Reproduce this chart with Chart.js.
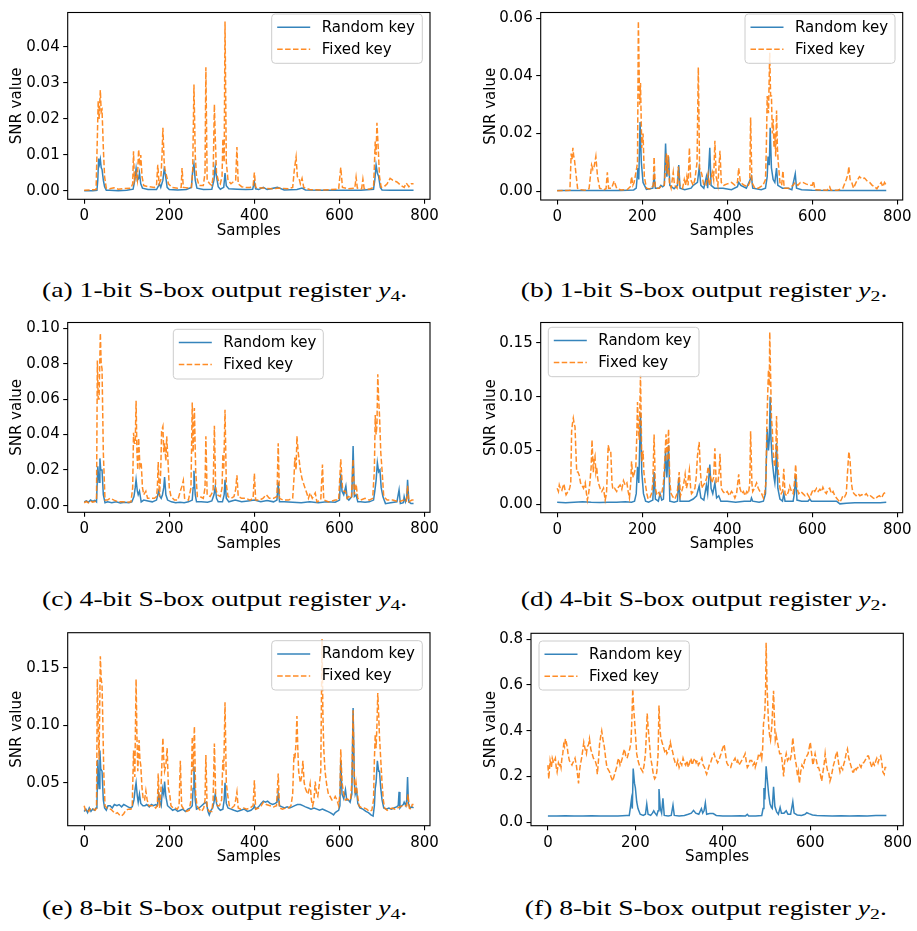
<!DOCTYPE html>
<html><head><meta charset="utf-8">
<script src="https://cdn.jsdelivr.net/npm/chart.js@4.4.1/dist/chart.umd.min.js"></script>
<style>
body{margin:0;background:#fff;}
#page{position:relative;width:917px;height:931px;overflow:hidden;background:#fff;}
#page canvas{position:absolute;}
.cap{position:absolute;font-family:"Liberation Serif","Times New Roman",serif;font-size:21px;line-height:21px;white-space:nowrap;color:#000;transform-origin:50% 50%;}
.cap sub{font-size:15px;vertical-align:-4px;line-height:0;}
</style></head><body><div id="page"></div>
<script>
// ---------- data: [sample, SNR value] ----------
const xTickLabels=[0,200,400,600,800];
const seriesNames=['Random key','Fixed key'];
const captions=['(a) 1-bit S-box output register ','(b) 1-bit S-box output register ','(c) 4-bit S-box output register ','(d) 4-bit S-box output register ','(e) 8-bit S-box output register ','(f) 8-bit S-box output register '];
const captionSubs=['4','2','4','2','4','2'];

const yTicksA=[0,0.01,0.02,0.03,0.04];
const yTicksB=[0,0.02,0.04,0.06];
const yTicksC=[0,0.02,0.04,0.06,0.08,0.10];
const yTicksD=[0,0.05,0.10,0.15];
const yTicksE=[0.05,0.10,0.15];
const yTicksF=[0,0.2,0.4,0.6,0.8];

const aRandom=[[0,0.0001],[10,0.0001],[20,0.0001],[30,0.0002],[32,0.003],[34,0.009],[36,0.0075],[38,0.0088],[40,0.0065],[42,0.006],[45,0.003],[48,0.0012],[52,0.0002],[60,0.0002],[80,0.0001],[100,0.0002],[115,0.0005],[119,0.003],[122,0.0062],[125,0.003],[128,0.0035],[130,0.005],[133,0.002],[137,0.0008],[150,0.0004],[170,0.0004],[175,0.0015],[177,0.002],[180,0.001],[185,0.003],[188,0.006],[191,0.0045],[195,0.001],[200,0.0004],[220,0.0003],[240,0.0004],[252,0.001],[255,0.0055],[258,0.0075],[261,0.003],[265,0.0008],[280,0.0004],[300,0.0005],[305,0.003],[308,0.0068],[311,0.004],[315,0.0012],[320,0.0005],[328,0.001],[331,0.005],[334,0.0015],[340,0.0006],[360,0.0005],[380,0.0004],[396,0.0005],[400,0.0025],[403,0.0006],[410,0.0004],[421,0.001],[430,0.0004],[454,0.001],[470,0.0003],[500,0.0004],[512,0.0008],[520,0.0003],[560,0.0002],[600,0.0002],[650,0.0002],[680,0.0005],[683,0.003],[686,0.0072],[689,0.005],[692,0.004],[696,0.001],[700,0.0003],[720,0.0002],[774,0.0002]];
const aFixed=[[0,0.0002],[15,0.0003],[28,0.0004],[31,0.015],[33,0.025],[35,0.02],[38,0.028],[40,0.022],[42,0.0225],[45,0.012],[48,0.004],[52,0.0008],[60,0.0006],[70,0.0009],[80,0.0005],[95,0.0007],[110,0.0008],[114,0.002],[116,0.011],[118,0.003],[122,0.005],[125,0.003],[128,0.0115],[131,0.007],[133,0.010],[136,0.004],[140,0.0015],[150,0.0012],[165,0.001],[170,0.0015],[173,0.0073],[176,0.002],[180,0.003],[183,0.01],[185,0.0175],[188,0.008],[190,0.006],[194,0.004],[198,0.002],[206,0.001],[220,0.0008],[228,0.001],[230,0.0064],[233,0.001],[245,0.0008],[252,0.001],[255,0.0055],[258,0.0295],[261,0.01],[264,0.004],[270,0.0015],[280,0.0015],[284,0.005],[286,0.0343],[289,0.003],[295,0.002],[300,0.0015],[303,0.004],[306,0.024],[308,0.015],[311,0.005],[315,0.003],[320,0.002],[324,0.004],[326,0.0145],[329,0.008],[331,0.047],[334,0.008],[338,0.003],[345,0.002],[350,0.0025],[356,0.003],[359,0.0122],[362,0.002],[370,0.0012],[380,0.001],[390,0.001],[397,0.0015],[400,0.0051],[403,0.001],[420,0.0008],[440,0.0006],[460,0.0008],[480,0.0006],[490,0.001],[494,0.006],[498,0.0094],[501,0.004],[505,0.0035],[508,0.002],[512,0.0035],[516,0.001],[530,0.0004],[560,0.0003],[580,0.0004],[598,0.0005],[603,0.0065],[607,0.001],[620,0.0006],[636,0.0008],[639,0.0038],[642,0.0008],[652,0.0006],[655,0.0033],[658,0.0007],[670,0.0005],[680,0.001],[682,0.007],[684,0.0137],[686,0.01],[688,0.0189],[691,0.012],[694,0.004],[698,0.001],[705,0.0012],[712,0.002],[719,0.0035],[725,0.003],[735,0.0025],[745,0.0015],[752,0.001],[757,0.0022],[763,0.0012],[768,0.002],[774,0.002]];

const bRandom=[[0,0.0002],[50,0.0002],[100,0.0002],[150,0.0002],[180,0.0004],[186,0.001],[190,0.008],[192,0.004],[195,0.024],[198,0.01],[202,0.003],[210,0.0006],[225,0.001],[228,0.005],[231,0.001],[240,0.001],[244,0.002],[248,0.0015],[252,0.002],[255,0.0165],[258,0.005],[262,0.012],[265,0.002],[275,0.0008],[283,0.002],[286,0.009],[289,0.001],[300,0.0005],[315,0.001],[320,0.002],[330,0.003],[334,0.008],[338,0.002],[345,0.001],[351,0.005],[354,0.001],[359,0.015],[362,0.002],[370,0.001],[390,0.001],[410,0.0005],[424,0.0015],[427,0.003],[432,0.002],[445,0.001],[457,0.005],[460,0.001],[480,0.0005],[490,0.001],[494,0.005],[496,0.012],[499,0.009],[501,0.022],[504,0.008],[508,0.004],[512,0.003],[516,0.008],[519,0.002],[530,0.001],[543,0.001],[552,0.0005],[560,0.006],[563,0.001],[575,0.0005],[600,0.0003],[650,0.0002],[700,0.0002],[774,0.0002]];
const bFixed=[[0,0.0001],[20,0.0002],[30,0.0003],[33,0.013],[35,0.011],[37,0.015],[39,0.012],[41,0.0105],[45,0.005],[48,0.001],[55,0.0005],[65,0.0003],[75,0.0008],[81,0.009],[84,0.0075],[87,0.0085],[91,0.012],[95,0.005],[100,0.001],[110,0.0005],[115,0.0008],[118,0.0065],[121,0.001],[128,0.001],[134,0.0035],[140,0.001],[150,0.0004],[165,0.0005],[172,0.0015],[175,0.005],[178,0.002],[181,0.003],[187,0.008],[189,0.01],[191,0.059],[194,0.03],[196,0.0375],[199,0.015],[202,0.02],[205,0.005],[210,0.001],[220,0.0006],[226,0.002],[228,0.0118],[231,0.001],[240,0.001],[246,0.002],[252,0.002],[257,0.013],[259,0.006],[261,0.0125],[264,0.003],[268,0.001],[273,0.0065],[276,0.002],[282,0.001],[285,0.0085],[288,0.002],[295,0.001],[299,0.004],[302,0.002],[305,0.005],[308,0.002],[311,0.015],[314,0.004],[320,0.002],[324,0.004],[329,0.01],[332,0.043],[335,0.008],[340,0.006],[345,0.002],[350,0.002],[355,0.006],[358,0.002],[365,0.0065],[368,0.004],[371,0.0175],[374,0.005],[378,0.002],[383,0.014],[386,0.003],[392,0.002],[400,0.0025],[410,0.003],[418,0.002],[424,0.003],[427,0.008],[431,0.003],[440,0.002],[448,0.0015],[453,0.003],[455,0.0255],[458,0.003],[465,0.001],[473,0.001],[484,0.002],[490,0.004],[492,0.015],[494,0.033],[497,0.027],[500,0.048],[502,0.033],[504,0.033],[506,0.02],[508,0.025],[510,0.015],[512,0.02],[514,0.012],[516,0.028],[518,0.015],[520,0.01],[524,0.003],[528,0.002],[531,0.007],[534,0.001],[545,0.001],[555,0.002],[560,0.003],[566,0.002],[572,0.003],[578,0.003],[585,0.0025],[594,0.002],[600,0.002],[603,0.0035],[606,0.0005],[620,0.0004],[635,0.0003],[641,0.0015],[644,0.0003],[660,0.0003],[672,0.001],[680,0.004],[684,0.006],[686,0.0085],[689,0.004],[693,0.003],[697,0.001],[703,0.003],[711,0.005],[717,0.0042],[723,0.0045],[729,0.0035],[735,0.003],[741,0.002],[747,0.0015],[752,0.0008],[757,0.002],[762,0.003],[766,0.0015],[770,0.003],[774,0.002]];

const cRandom=[[0,0.002],[5,0.0025],[10,0.0018],[15,0.003],[20,0.0022],[25,0.0028],[29,0.002],[32,0.022],[35,0.013],[37,0.0265],[39,0.02],[42,0.02],[45,0.006],[49,0.0015],[55,0.002],[65,0.0015],[75,0.002],[85,0.0014],[95,0.0017],[105,0.0015],[112,0.002],[117,0.005],[120,0.01],[122,0.0145],[125,0.008],[127,0.006],[130,0.008],[134,0.002],[140,0.003],[150,0.0025],[160,0.002],[170,0.003],[175,0.008],[178,0.005],[181,0.004],[184,0.006],[187,0.01],[189,0.016],[192,0.006],[196,0.003],[205,0.002],[215,0.0015],[225,0.0018],[235,0.0015],[245,0.002],[254,0.003],[256,0.01],[258,0.0195],[261,0.006],[264,0.002],[275,0.002],[290,0.0018],[300,0.0025],[305,0.006],[308,0.0105],[311,0.004],[315,0.002],[325,0.002],[329,0.006],[331,0.0145],[334,0.004],[340,0.002],[355,0.003],[370,0.002],[385,0.0025],[400,0.003],[415,0.002],[430,0.0028],[445,0.002],[453,0.003],[456,0.013],[459,0.002],[470,0.002],[490,0.0018],[510,0.0015],[530,0.002],[550,0.0015],[570,0.002],[590,0.0018],[600,0.003],[603,0.018],[606,0.008],[610,0.006],[615,0.011],[618,0.004],[622,0.003],[629,0.005],[632,0.0335],[635,0.005],[639,0.006],[643,0.002],[650,0.002],[660,0.0018],[670,0.002],[680,0.003],[683,0.008],[686,0.014],[689,0.024],[692,0.019],[695,0.02],[698,0.01],[702,0.005],[708,0.001],[720,0.0015],[735,0.002],[740,0.0088],[743,0.001],[750,0.0015],[752,0.005],[755,0.002],[758,0.004],[760,0.0145],[763,0.002],[768,0.001],[774,0.001]];
const cFixed=[[0,0.0015],[5,0.0022],[10,0.0015],[15,0.0025],[20,0.0018],[25,0.0022],[29,0.003],[31,0.0818],[33,0.06],[35,0.06],[38,0.0972],[40,0.08],[42,0.077],[45,0.03],[49,0.003],[55,0.003],[61,0.004],[70,0.003],[80,0.002],[90,0.002],[100,0.0018],[110,0.002],[114,0.01],[116,0.041],[118,0.035],[120,0.035],[122,0.059],[124,0.03],[126,0.02],[128,0.038],[131,0.022],[134,0.024],[137,0.01],[140,0.006],[145,0.008],[149,0.004],[155,0.004],[165,0.004],[170,0.005],[172,0.01],[174,0.0245],[177,0.005],[180,0.02],[182,0.042],[185,0.0445],[187,0.03],[189,0.035],[192,0.025],[194,0.039],[197,0.025],[200,0.01],[204,0.005],[212,0.003],[220,0.003],[226,0.008],[230,0.011],[233,0.014],[236,0.004],[245,0.003],[251,0.01],[254,0.058],[256,0.03],[259,0.055],[262,0.02],[266,0.005],[272,0.005],[280,0.004],[284,0.01],[286,0.039],[289,0.006],[296,0.005],[303,0.008],[306,0.045],[309,0.01],[313,0.006],[320,0.005],[324,0.01],[326,0.029],[328,0.02],[331,0.054],[334,0.012],[338,0.005],[345,0.004],[352,0.005],[356,0.009],[359,0.017],[362,0.005],[370,0.004],[380,0.004],[390,0.003],[397,0.004],[400,0.018],[403,0.003],[412,0.003],[420,0.004],[428,0.006],[435,0.004],[445,0.004],[453,0.005],[456,0.035],[459,0.004],[467,0.003],[480,0.003],[490,0.004],[493,0.015],[495,0.027],[498,0.02],[500,0.039],[503,0.03],[508,0.02],[512,0.015],[516,0.012],[523,0.007],[527,0.004],[531,0.007],[536,0.004],[543,0.007],[547,0.002],[556,0.003],[560,0.023],[563,0.003],[575,0.002],[590,0.003],[598,0.003],[603,0.026],[607,0.01],[610,0.008],[614,0.008],[618,0.004],[621,0.005],[628,0.004],[632,0.026],[635,0.006],[639,0.012],[643,0.004],[650,0.003],[660,0.004],[670,0.003],[678,0.004],[682,0.02],[684,0.051],[686,0.04],[688,0.045],[690,0.074],[692,0.06],[694,0.051],[697,0.03],[700,0.02],[704,0.005],[712,0.003],[725,0.003],[740,0.002],[750,0.003],[757,0.002],[760,0.011],[763,0.002],[770,0.003],[774,0.003]];

const dRandom=[[0,0.002],[20,0.0015],[40,0.002],[60,0.0025],[80,0.002],[100,0.0018],[120,0.002],[140,0.002],[160,0.0025],[175,0.002],[182,0.003],[186,0.01],[189,0.035],[192,0.02],[196,0.085],[199,0.03],[203,0.01],[208,0.003],[215,0.002],[225,0.004],[228,0.03],[231,0.005],[238,0.003],[242,0.01],[246,0.004],[250,0.005],[255,0.05],[258,0.025],[262,0.055],[265,0.003],[275,0.002],[283,0.003],[286,0.025],[289,0.003],[300,0.003],[310,0.003],[320,0.005],[328,0.008],[334,0.017],[338,0.006],[345,0.004],[351,0.018],[354,0.01],[359,0.037],[362,0.015],[366,0.01],[371,0.02],[375,0.006],[380,0.008],[385,0.003],[400,0.003],[420,0.002],[440,0.003],[455,0.003],[457,0.006],[460,0.003],[475,0.002],[485,0.003],[490,0.01],[494,0.07],[497,0.05],[499,0.06],[501,0.1],[503,0.06],[506,0.04],[510,0.025],[512,0.02],[514,0.03],[516,0.057],[519,0.015],[524,0.005],[530,0.003],[533,0.01],[536,0.003],[545,0.003],[555,0.003],[558,0.01],[561,0.027],[564,0.004],[575,0.003],[590,0.003],[594,0.005],[598,0.003],[620,0.003],[640,0.003],[657,0.003],[665,0.0005],[680,0.001],[700,0.0015],[720,0.0015],[740,0.0015],[760,0.0015],[774,0.002]];
const dFixed=[[0,0.015],[3,0.012],[5,0.018],[8,0.014],[11,0.013],[14,0.017],[16,0.019],[19,0.012],[21,0.009],[24,0.011],[27,0.012],[30,0.016],[32,0.02],[34,0.068],[36,0.075],[38,0.08],[40,0.075],[42,0.072],[44,0.05],[46,0.03],[49,0.03],[52,0.027],[55,0.02],[58,0.018],[62,0.015],[66,0.02],[69,0.01],[71,0.004],[74,0.01],[77,0.02],[80,0.035],[82,0.06],[85,0.03],[87,0.042],[89,0.045],[91,0.03],[93,0.035],[95,0.025],[97,0.02],[101,0.015],[105,0.012],[109,0.015],[113,0.004],[116,0.01],[118,0.03],[120,0.055],[123,0.05],[126,0.05],[129,0.02],[131,0.014],[135,0.015],[140,0.012],[144,0.016],[148,0.018],[152,0.014],[156,0.022],[160,0.018],[164,0.02],[167,0.012],[170,0.006],[173,0.02],[175,0.04],[177,0.03],[179,0.025],[182,0.03],[185,0.035],[187,0.06],[189,0.095],[191,0.07],[193,0.06],[196,0.12],[198,0.07],[199,0.04],[202,0.05],[204,0.03],[207,0.02],[211,0.01],[214,0.005],[218,0.006],[222,0.01],[225,0.02],[228,0.065],[231,0.015],[234,0.01],[238,0.012],[242,0.008],[246,0.01],[250,0.02],[253,0.04],[256,0.065],[259,0.04],[262,0.07],[265,0.02],[268,0.01],[272,0.007],[277,0.005],[282,0.01],[285,0.02],[287,0.03],[290,0.008],[295,0.015],[298,0.02],[301,0.028],[304,0.015],[307,0.02],[311,0.032],[314,0.015],[316,0.01],[320,0.012],[324,0.015],[327,0.025],[330,0.045],[334,0.058],[337,0.03],[340,0.015],[344,0.018],[348,0.02],[352,0.025],[355,0.035],[358,0.03],[361,0.025],[364,0.02],[368,0.025],[371,0.052],[374,0.02],[378,0.02],[381,0.03],[383,0.047],[386,0.015],[390,0.012],[395,0.01],[400,0.012],[405,0.008],[410,0.012],[414,0.01],[418,0.006],[422,0.01],[427,0.028],[430,0.015],[434,0.01],[438,0.012],[442,0.008],[446,0.012],[450,0.01],[453,0.02],[455,0.068],[458,0.02],[460,0.012],[464,0.015],[469,0.02],[473,0.015],[477,0.012],[481,0.01],[485,0.006],[488,0.01],[491,0.02],[493,0.07],[495,0.1],[497,0.125],[499,0.11],[500,0.16],[502,0.12],[504,0.08],[506,0.07],[508,0.05],[510,0.04],[512,0.035],[514,0.045],[516,0.082],[518,0.05],[520,0.03],[522,0.025],[524,0.015],[527,0.01],[530,0.012],[533,0.033],[536,0.01],[540,0.008],[544,0.012],[547,0.017],[551,0.012],[555,0.01],[558,0.02],[561,0.037],[564,0.015],[568,0.01],[573,0.012],[578,0.01],[583,0.008],[588,0.01],[594,0.006],[598,0.01],[602,0.014],[606,0.012],[610,0.015],[614,0.012],[618,0.014],[622,0.012],[625,0.016],[629,0.012],[633,0.01],[637,0.014],[641,0.015],[645,0.01],[649,0.012],[653,0.008],[657,0.006],[661,0.004],[665,0.002],[669,0.005],[672,0.008],[676,0.007],[680,0.01],[683,0.03],[686,0.049],[689,0.04],[692,0.02],[695,0.012],[698,0.01],[703,0.008],[708,0.01],[712,0.008],[717,0.009],[722,0.008],[727,0.01],[732,0.007],[737,0.008],[743,0.006],[748,0.005],[753,0.007],[758,0.008],[763,0.006],[768,0.01],[772,0.011],[774,0.012]];

const eRandom=[[0,0.025],[4,0.027],[8,0.024],[12,0.028],[16,0.025],[20,0.027],[24,0.026],[28,0.028],[30,0.03],[32,0.07],[35,0.045],[37,0.078],[39,0.062],[42,0.06],[45,0.035],[48,0.028],[52,0.026],[56,0.03],[61,0.03],[66,0.028],[71,0.031],[77,0.03],[82,0.031],[88,0.029],[93,0.031],[98,0.03],[103,0.029],[108,0.028],[113,0.029],[117,0.035],[120,0.045],[122,0.05],[125,0.038],[127,0.033],[130,0.04],[133,0.032],[138,0.03],[143,0.03],[147,0.031],[153,0.029],[158,0.031],[163,0.03],[168,0.031],[172,0.03],[175,0.04],[178,0.033],[181,0.03],[184,0.045],[187,0.04],[189,0.051],[192,0.038],[196,0.03],[202,0.028],[208,0.026],[214,0.027],[220,0.025],[226,0.026],[232,0.027],[238,0.025],[244,0.027],[250,0.028],[254,0.03],[256,0.045],[258,0.064],[261,0.035],[264,0.027],[270,0.028],[276,0.03],[282,0.032],[287,0.033],[291,0.025],[294,0.022],[298,0.026],[302,0.028],[305,0.033],[308,0.04],[311,0.032],[315,0.028],[320,0.026],[326,0.027],[329,0.035],[331,0.05],[334,0.032],[338,0.028],[345,0.027],[352,0.026],[360,0.025],[368,0.026],[376,0.027],[384,0.025],[392,0.026],[398,0.028],[400,0.03],[403,0.027],[410,0.029],[416,0.032],[421,0.034],[426,0.033],[431,0.034],[437,0.032],[443,0.031],[449,0.032],[453,0.033],[456,0.04],[459,0.03],[465,0.029],[471,0.028],[477,0.029],[483,0.028],[489,0.029],[495,0.03],[501,0.031],[508,0.031],[514,0.03],[520,0.029],[527,0.028],[533,0.027],[540,0.028],[547,0.027],[553,0.026],[560,0.027],[566,0.026],[572,0.025],[578,0.024],[582,0.023],[586,0.022],[590,0.024],[594,0.025],[598,0.026],[601,0.03],[603,0.069],[606,0.04],[610,0.036],[614,0.044],[617,0.035],[621,0.035],[625,0.033],[629,0.04],[632,0.115],[635,0.05],[637,0.04],[640,0.044],[643,0.032],[648,0.028],[655,0.027],[662,0.025],[668,0.024],[674,0.022],[679,0.021],[682,0.03],[684,0.045],[686,0.05],[689,0.069],[692,0.06],[694,0.06],[697,0.045],[700,0.035],[704,0.028],[710,0.027],[716,0.028],[722,0.027],[728,0.028],[734,0.029],[738,0.03],[740,0.042],[742,0.028],[746,0.03],[750,0.031],[752,0.033],[756,0.03],[758,0.035],[760,0.055],[762,0.032],[766,0.028],[770,0.029],[774,0.028]];
const eFixed=[[0,0.03],[3,0.026],[7,0.027],[11,0.025],[14,0.027],[18,0.026],[22,0.027],[26,0.026],[29,0.028],[31,0.14],[33,0.1],[35,0.07],[38,0.16],[40,0.14],[42,0.135],[44,0.1],[46,0.06],[49,0.03],[53,0.028],[58,0.027],[63,0.027],[68,0.025],[73,0.023],[78,0.024],[83,0.022],[88,0.021],[93,0.023],[98,0.026],[104,0.027],[110,0.027],[113,0.03],[116,0.078],[119,0.055],[122,0.14],[124,0.09],[126,0.06],[129,0.087],[131,0.07],[133,0.065],[136,0.045],[139,0.035],[142,0.035],[145,0.043],[148,0.035],[152,0.03],[157,0.03],[163,0.03],[168,0.028],[172,0.03],[174,0.058],[177,0.028],[180,0.04],[183,0.07],[185,0.089],[187,0.07],[189,0.06],[192,0.065],[195,0.08],[198,0.045],[201,0.04],[204,0.03],[209,0.028],[214,0.028],[219,0.027],[223,0.03],[226,0.069],[229,0.03],[234,0.027],[241,0.025],[247,0.026],[251,0.035],[254,0.09],[256,0.06],[259,0.099],[262,0.04],[265,0.03],[270,0.027],[276,0.025],[281,0.028],[284,0.035],[286,0.074],[289,0.028],[294,0.025],[300,0.025],[303,0.035],[306,0.084],[309,0.04],[313,0.03],[318,0.03],[323,0.035],[326,0.07],[328,0.06],[331,0.12],[334,0.05],[337,0.04],[341,0.03],[347,0.028],[353,0.03],[356,0.035],[359,0.042],[362,0.028],[368,0.027],[375,0.028],[382,0.027],[390,0.028],[397,0.03],[400,0.052],[403,0.027],[410,0.028],[416,0.03],[421,0.033],[428,0.031],[437,0.03],[445,0.029],[452,0.03],[456,0.058],[459,0.028],[466,0.027],[473,0.028],[480,0.028],[486,0.03],[490,0.04],[493,0.075],[495,0.07],[498,0.085],[500,0.108],[502,0.08],[504,0.06],[506,0.055],[508,0.05],[511,0.055],[514,0.069],[517,0.05],[520,0.045],[523,0.042],[526,0.04],[529,0.045],[531,0.049],[534,0.035],[537,0.03],[540,0.035],[543,0.051],[546,0.04],[549,0.038],[553,0.05],[556,0.06],[559,0.175],[561,0.11],[563,0.08],[566,0.06],[570,0.048],[574,0.04],[578,0.038],[582,0.035],[586,0.035],[590,0.038],[594,0.035],[598,0.03],[601,0.04],[603,0.079],[606,0.05],[610,0.04],[614,0.035],[618,0.036],[622,0.035],[626,0.035],[629,0.05],[632,0.113],[634,0.07],[636,0.04],[639,0.05],[642,0.04],[646,0.03],[652,0.028],[658,0.028],[664,0.027],[670,0.025],[676,0.026],[680,0.035],[682,0.07],[684,0.092],[686,0.08],[688,0.1],[690,0.128],[692,0.11],[694,0.09],[697,0.07],[700,0.05],[703,0.035],[706,0.028],[712,0.026],[718,0.027],[724,0.028],[730,0.027],[736,0.028],[742,0.029],[748,0.03],[754,0.03],[758,0.03],[761,0.04],[764,0.028],[768,0.027],[771,0.031],[774,0.031]];

const fRandom=[[0,0.028],[20,0.027],[40,0.029],[60,0.028],[80,0.027],[100,0.029],[120,0.028],[140,0.027],[160,0.028],[180,0.03],[186,0.03],[189,0.07],[191,0.1],[193,0.06],[195,0.235],[198,0.17],[200,0.15],[203,0.09],[206,0.06],[211,0.035],[218,0.03],[223,0.035],[226,0.08],[229,0.035],[235,0.03],[239,0.04],[242,0.05],[245,0.04],[249,0.03],[252,0.05],[254,0.145],[257,0.06],[260,0.04],[263,0.105],[266,0.03],[275,0.028],[282,0.03],[286,0.075],[289,0.03],[300,0.028],[312,0.03],[321,0.035],[328,0.04],[333,0.052],[338,0.04],[345,0.035],[351,0.06],[354,0.04],[357,0.05],[360,0.085],[363,0.035],[370,0.038],[378,0.038],[385,0.03],[400,0.028],[420,0.028],[440,0.029],[452,0.028],[456,0.035],[459,0.028],[475,0.028],[489,0.03],[492,0.06],[494,0.15],[496,0.1],[499,0.245],[502,0.18],[505,0.12],[508,0.08],[511,0.065],[513,0.06],[516,0.155],[519,0.07],[523,0.045],[527,0.035],[531,0.065],[534,0.04],[540,0.04],[545,0.05],[549,0.035],[555,0.035],[560,0.09],[563,0.04],[570,0.032],[580,0.03],[588,0.035],[592,0.042],[597,0.038],[605,0.032],[615,0.03],[630,0.029],[650,0.028],[670,0.029],[690,0.028],[710,0.029],[730,0.028],[750,0.03],[774,0.03]];
const fFixed=[[0,0.25],[2,0.19],[5,0.27],[8,0.24],[10,0.28],[13,0.26],[15,0.27],[17,0.28],[19,0.24],[21,0.22],[24,0.26],[26,0.25],[28,0.26],[30,0.24],[32,0.28],[34,0.3],[36,0.34],[38,0.33],[40,0.365],[42,0.35],[44,0.33],[46,0.3],[49,0.27],[52,0.26],[55,0.25],[57,0.26],[60,0.27],[62,0.28],[65,0.25],[67,0.22],[70,0.17],[72,0.22],[74,0.25],[77,0.28],[80,0.32],[82,0.35],[85,0.32],[88,0.3],[90,0.33],[93,0.34],[95,0.365],[98,0.32],[101,0.3],[104,0.28],[108,0.27],[111,0.25],[113,0.21],[116,0.28],[118,0.34],[121,0.38],[123,0.4],[126,0.36],[129,0.33],[132,0.28],[135,0.24],[138,0.23],[141,0.22],[144,0.2],[148,0.18],[151,0.2],[154,0.22],[157,0.24],[160,0.27],[162,0.28],[165,0.25],[167,0.26],[170,0.28],[172,0.3],[175,0.32],[178,0.29],[181,0.28],[184,0.3],[187,0.32],[190,0.35],[192,0.45],[194,0.585],[196,0.5],[198,0.45],[201,0.36],[203,0.3],[206,0.27],[209,0.25],[211,0.24],[214,0.23],[217,0.22],[220,0.25],[223,0.3],[225,0.38],[227,0.475],[229,0.42],[232,0.35],[235,0.28],[238,0.25],[241,0.21],[244,0.19],[247,0.2],[249,0.22],[252,0.3],[254,0.51],[256,0.42],[258,0.37],[261,0.35],[264,0.33],[267,0.31],[270,0.32],[272,0.3],[275,0.31],[278,0.33],[280,0.35],[283,0.32],[285,0.31],[288,0.28],[291,0.26],[294,0.25],[297,0.27],[300,0.24],[303,0.26],[306,0.25],[309,0.28],[312,0.26],[315,0.25],[318,0.27],[321,0.24],[324,0.26],[327,0.28],[330,0.25],[333,0.27],[336,0.28],[339,0.26],[342,0.27],[344,0.25],[347,0.26],[350,0.27],[352,0.28],[355,0.25],[358,0.24],[361,0.22],[363,0.21],[366,0.23],[369,0.25],[372,0.26],[375,0.28],[378,0.29],[380,0.3],[383,0.28],[386,0.27],[388,0.26],[391,0.27],[394,0.29],[396,0.3],[399,0.32],[403,0.34],[406,0.3],[409,0.26],[412,0.25],[415,0.24],[418,0.24],[421,0.26],[425,0.27],[428,0.28],[431,0.26],[434,0.27],[437,0.25],[440,0.26],[443,0.27],[446,0.28],[449,0.29],[451,0.3],[454,0.26],[456,0.24],[459,0.25],[462,0.27],[466,0.27],[469,0.25],[472,0.26],[474,0.24],[477,0.26],[480,0.28],[482,0.3],[485,0.29],[487,0.3],[489,0.28],[491,0.32],[493,0.43],[495,0.46],[496,0.48],[498,0.6],[499,0.785],[501,0.6],[503,0.5],[505,0.42],[507,0.38],[509,0.36],[512,0.42],[514,0.5],[516,0.575],[518,0.45],[520,0.36],[522,0.38],[524,0.36],[527,0.33],[530,0.3],[533,0.3],[535,0.28],[537,0.24],[539,0.2],[541,0.26],[545,0.3],[548,0.27],[551,0.28],[554,0.27],[557,0.3],[560,0.37],[562,0.33],[565,0.28],[568,0.25],[571,0.2],[573,0.22],[575,0.17],[578,0.22],[581,0.25],[584,0.24],[587,0.27],[590,0.28],[592,0.29],[595,0.3],[597,0.32],[600,0.35],[603,0.3],[606,0.25],[608,0.27],[611,0.3],[614,0.27],[617,0.24],[619,0.24],[622,0.22],[624,0.2],[626,0.18],[629,0.22],[632,0.26],[634,0.3],[637,0.25],[640,0.22],[642,0.22],[645,0.18],[648,0.2],[651,0.23],[653,0.25],[656,0.27],[658,0.29],[661,0.31],[664,0.27],[666,0.24],[668,0.22],[671,0.24],[674,0.23],[676,0.25],[679,0.27],[682,0.3],[685,0.32],[688,0.28],[691,0.26],[694,0.24],[697,0.22],[699,0.22],[702,0.24],[705,0.23],[708,0.24],[710,0.24],[713,0.25],[716,0.24],[719,0.26],[722,0.26],[725,0.27],[728,0.28],[731,0.29],[733,0.29],[736,0.27],[739,0.25],[741,0.24],[744,0.26],[747,0.25],[750,0.27],[752,0.28],[755,0.26],[758,0.28],[761,0.29],[763,0.27],[766,0.22],[769,0.21],[771,0.24],[774,0.24]];

// ---------- layout / styling ----------
const BLUE='rgba(31,119,180,0.9)', ORANGE='rgba(255,127,14,0.9)';
const X_MIN=-38.7, X_MAX=812.7;
Chart.defaults.font.family="'DejaVu Sans', sans-serif";
Chart.defaults.font.size=15;
Chart.defaults.color='#000';

const panels=[
 {random:aRandom,fixed:aFixed,yTicks:yTicksA,dec:2,yMin:-0.0023,yMax:0.0495,box:{l:67.7,t:5.7,r:430,b:199.3},cv:{x:0,y:0,w:458,h:250},leg:{x:271.7,y:14,w:150.6,h:49.3},titleX:17},
 {random:bRandom,fixed:bFixed,yTicks:yTicksB,dec:2,yMin:-0.0031,yMax:0.0620,box:{l:540.7,t:6.7,r:902.7,b:200},cv:{x:460,y:0,w:457,h:250},leg:{x:745,y:14,w:150,h:49.3},titleX:491},
 {random:cRandom,fixed:cFixed,yTicks:yTicksC,dec:2,yMin:-0.0039,yMax:0.1032,box:{l:67.7,t:320,r:430,b:512.3},cv:{x:0,y:310,w:458,h:250},leg:{x:173.3,y:329.3,w:150,h:49.7},titleX:17},
 {random:dRandom,fixed:dFixed,yTicks:yTicksD,dec:2,yMin:-0.0077,yMax:0.1689,box:{l:540.7,t:319.3,r:902.7,b:512.7},cv:{x:460,y:310,w:457,h:250},leg:{x:548.3,y:327.3,w:150.7,h:49.4},titleX:491},
 {random:eRandom,fixed:eFixed,yTicks:yTicksE,dec:2,yMin:0.0126,yMax:0.1804,box:{l:67.7,t:632.7,r:430,b:825.7},cv:{x:0,y:620,w:458,h:250},leg:{x:271.7,y:640.7,w:150.6,h:49.3},titleX:17},
 {random:fRandom,fixed:fFixed,yTicks:yTicksF,dec:1,yMin:-0.0149,yMax:0.8262,box:{l:531,t:633.3,r:903.3,b:825.7},cv:{x:460,y:620,w:457,h:250},leg:{x:539,y:641,w:150.3,h:49},titleX:491}
];
// caption: right edge and baseline
const capPos=[{r:407,y:297.3},{r:887,y:297.3},{r:407,y:606.6},{r:887,y:606.6},{r:407,y:916},{r:887,y:916}];
const CAP_TARGET_W=365; // width of caption (a)

const framePlugin={
  id:'frameLegend',
  afterDatasetsDraw(chart){
    const o=chart.options.plugins.frameLegend; const ctx=chart.ctx; const a=chart.chartArea;
    ctx.save();
    ctx.strokeStyle='#000'; ctx.lineWidth=1.1;
    ctx.strokeRect(a.left,a.top,a.right-a.left,a.bottom-a.top);
    const L=o.leg;
    const x=L.x-o.ox, y=L.y-o.oy;
    ctx.beginPath();
    const r=3.5;
    ctx.moveTo(x+r,y);ctx.lineTo(x+L.w-r,y);ctx.quadraticCurveTo(x+L.w,y,x+L.w,y+r);
    ctx.lineTo(x+L.w,y+L.h-r);ctx.quadraticCurveTo(x+L.w,y+L.h,x+L.w-r,y+L.h);
    ctx.lineTo(x+r,y+L.h);ctx.quadraticCurveTo(x,y+L.h,x,y+L.h-r);
    ctx.lineTo(x,y+r);ctx.quadraticCurveTo(x,y,x+r,y);ctx.closePath();
    ctx.fillStyle='rgba(255,255,255,0.8)'; ctx.fill();
    ctx.strokeStyle='#cccccc'; ctx.lineWidth=1; ctx.stroke();
    const rows=[{c:BLUE,d:[],t:seriesNames[0],yy:y+13.3},{c:ORANGE,d:[5.5,2.4],t:seriesNames[1],yy:y+35.3}];
    rows.forEach(rw=>{
      ctx.beginPath(); ctx.setLineDash(rw.d); ctx.strokeStyle=rw.c; ctx.lineWidth=1.5;
      ctx.moveTo(x+5.5,rw.yy); ctx.lineTo(x+38.5,rw.yy); ctx.stroke(); ctx.setLineDash([]);
      ctx.fillStyle='#000'; ctx.font="15px 'DejaVu Sans', sans-serif"; ctx.textBaseline='middle'; ctx.textAlign='left';
      ctx.fillText(rw.t,x+50,rw.yy+0.5);
    });
    ctx.restore();
  }
};

const page=document.getElementById('page');
const capEls=[];
panels.forEach((p,i)=>{
  const cv=document.createElement('canvas');
  cv.width=p.cv.w; cv.height=p.cv.h;
  cv.style.left=p.cv.x+'px'; cv.style.top=p.cv.y+'px';
  cv.style.width=p.cv.w+'px'; cv.style.height=p.cv.h+'px';
  page.appendChild(cv);
  const yW=p.box.l-p.cv.x;
  const xH=p.cv.y+p.cv.h-p.box.b;
  const padTop=p.box.t-p.cv.y;
  const padRight=p.cv.x+p.cv.w-p.box.r;
  const xTitlePad=(p.cv.y+p.cv.h)-9-(p.box.b+31.5);
  const yTitlePad=p.titleX-p.cv.x-9;
  const pts=arr=>arr.map(q=>({x:q[0],y:q[1]}));
  new Chart(cv,{
    type:'line',
    data:{datasets:[
      {label:seriesNames[0],data:pts(p.random),borderColor:BLUE,borderWidth:1.5,pointRadius:0,tension:0,fill:false,order:2},
      {label:seriesNames[1],data:pts(p.fixed),borderColor:ORANGE,borderWidth:1.5,borderDash:[5.5,2.4],pointRadius:0,tension:0,fill:false,order:1}
    ]},
    options:{
      responsive:false,animation:false,devicePixelRatio:1,
      layout:{padding:{left:0,top:padTop,right:padRight,bottom:0}},
      plugins:{legend:{display:false},tooltip:{enabled:false},frameLegend:{leg:p.leg,ox:p.cv.x,oy:p.cv.y}},
      scales:{
        x:{type:'linear',min:X_MIN,max:X_MAX,
          afterFit:s=>{s.height=xH;},
          afterBuildTicks:s=>{s.ticks=xTickLabels.map(v=>({value:v}));},
          ticks:{padding:3.5,maxRotation:0,autoSkip:false,callback:v=>String(v)},
          grid:{drawOnChartArea:false,drawTicks:true,tickLength:4.5,color:'#000',lineWidth:1.1},
          border:{display:false},
          title:{display:true,text:'Samples',padding:{top:0,bottom:xTitlePad}}},
        y:{type:'linear',min:p.yMin,max:p.yMax,
          afterFit:s=>{s.width=yW;},
          afterBuildTicks:s=>{s.ticks=p.yTicks.map(v=>({value:v}));},
          ticks:{padding:3.5,autoSkip:false,callback:v=>Number(v).toFixed(p.dec)},
          grid:{drawOnChartArea:false,drawTicks:true,tickLength:4.5,color:'#000',lineWidth:1.1},
          border:{display:false},
          title:{display:true,text:'SNR value',padding:{top:yTitlePad,bottom:0}}}
      }
    },
    plugins:[framePlugin]
  });
  const cap=document.createElement('div');
  cap.className='cap';
  cap.innerHTML=captions[i]+'<i>y</i><sub>'+captionSubs[i]+'</sub>.';
  page.appendChild(cap);
  capEls.push(cap);
});
// place captions: scale horizontally so caption (a) has the target width, right-align, baseline
const k=CAP_TARGET_W/capEls[0].getBoundingClientRect().width;
capEls.forEach((c,i)=>{
  const w=c.getBoundingClientRect().width;
  c.style.transformOrigin='100% 0';
  c.style.transform='scaleX('+k.toFixed(4)+')';
  c.style.left=(capPos[i].r-w)+'px';
  c.style.top=(capPos[i].y-17.6)+'px';
});
</script>
</body></html>
